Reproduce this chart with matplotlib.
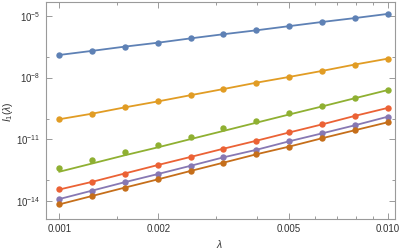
import matplotlib
matplotlib.use("Agg")
import matplotlib.pyplot as plt
from matplotlib.ticker import FixedLocator, NullFormatter

# lambda values (points)
lam = [0.001, 0.00126, 0.00158, 0.002, 0.00251, 0.00316,
       0.00398, 0.00501, 0.00631, 0.00794, 0.01]

# I_1(lambda) point values for each series
blue = [1.26e-7, 2.0e-7, 3.2e-7, 5.0e-7, 8.1e-7, 1.29e-6,
        2.0e-6, 3.2e-6, 5.1e-6, 7.9e-6, 1.26e-5]
orange = [9.3e-11, 1.74e-10, 3.5e-10, 6.9e-10, 1.38e-9, 2.75e-9,
          5.6e-9, 1.07e-8, 2.1e-8, 4.3e-8, 8.3e-8]
green = [4.1e-13, 9.5e-13, 2.3e-12, 5.4e-12, 1.32e-11, 3.4e-11,
         7.4e-11, 1.82e-10, 4.3e-10, 1.0e-9, 2.45e-9]
green_fit = [2.57e-13, 6.5e-13, 1.62e-12, 4.0e-12, 1.0e-11, 2.5e-11,
             6.3e-11, 1.58e-10, 3.9e-10, 9.8e-10, 2.45e-9]
red = [3.5e-14, 8.3e-14, 2.1e-13, 5.5e-13, 1.35e-12, 3.4e-12,
       8.3e-12, 2.1e-11, 5.2e-11, 1.35e-10, 3.3e-10]
purple = [1.2e-14, 3.1e-14, 7.9e-14, 2.0e-13, 5.0e-13, 1.29e-12,
          3.0e-12, 7.8e-12, 1.9e-11, 4.7e-11, 1.23e-10]
brown = [6.6e-15, 1.7e-14, 4.3e-14, 1.1e-13, 2.8e-13, 7.1e-13,
         1.82e-12, 4.3e-12, 1.1e-11, 2.7e-11, 6.6e-11]

xticks = [0.001, 0.002, 0.005, 0.010]
xtick_labels = ["0.001", "0.002", "0.005", "0.010"]
xminor = [0.0015, 0.003, 0.004, 0.006, 0.007, 0.008, 0.009]
yticks = [1e-14, 1e-11, 1e-8, 1e-5]
ytick_labels = ["$10^{-14}$", "$10^{-11}$", "$10^{-8}$", "$10^{-5}$"]
yminor = [1e-13, 1e-10, 1e-7]

plt.rcParams['font.family'] = ['Liberation Sans', 'DejaVu Sans']
plt.rcParams['mathtext.fontset'] = 'custom'
plt.rcParams['mathtext.rm'] = 'Liberation Sans'
plt.rcParams['mathtext.it'] = 'Liberation Sans:italic'

fig = plt.figure(figsize=(4, 2.5), dpi=100)
ax = fig.add_axes([0.114, 0.126, 0.874, 0.866])

series = [
    (blue, blue, "#5E81B5"),
    (orange, orange, "#E19C24"),
    (green, green_fit, "#8FB032"),
    (red, red, "#EB6235"),
    (purple, purple, "#8778B3"),
    (brown, brown, "#C56E1A"),
]
for pts, line, col in series:
    ax.plot(lam, line, color=col, lw=1.3)
    ax.plot(lam, pts, "o", color=col, ms=4.6, mec="none")

ax.set_xscale("log")
ax.set_yscale("log")
ax.set_xlim(0.000908, 0.01054)
ax.set_ylim(1.35e-15, 4.8e-5)

ax.xaxis.set_major_locator(FixedLocator(xticks))
ax.set_xticklabels(xtick_labels)
ax.xaxis.set_minor_locator(FixedLocator(xminor))
ax.xaxis.set_minor_formatter(NullFormatter())
ax.yaxis.set_major_locator(FixedLocator(yticks))
ax.set_yticklabels(ytick_labels)
ax.yaxis.set_minor_locator(FixedLocator(yminor))
ax.yaxis.set_minor_formatter(NullFormatter())

for s in ax.spines.values():
    s.set_color("#9a9a9a")
    s.set_linewidth(0.8)
ax.tick_params(which="both", direction="in", top=True, right=True,
               color="#9a9a9a", labelcolor="#333333", labelsize=7, width=0.7)
ax.tick_params(which="major", length=4, pad=4)
ax.tick_params(which="minor", length=2.5)

fig.text(220 / 400, 1 - 244 / 250, r"$\lambda$", fontsize=7.5,
         color="#333333", ha="center", va="center")
fig.text(8 / 400, 1 - 112 / 250, r"$I_1(\lambda)$", fontsize=7.5,
         color="#333333", ha="center", va="center", rotation=90)

fig.savefig("out.png", dpi=100)
